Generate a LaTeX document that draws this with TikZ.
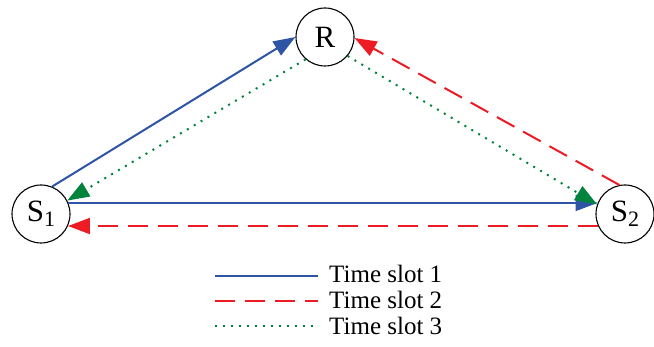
\documentclass[tikz,border=0pt]{standalone}
\usepackage{fontspec}
\setmainfont{Liberation Serif}
\usetikzlibrary{arrows.meta}
\definecolor{cblue}{HTML}{2E54A6}
\definecolor{cred}{HTML}{ED1C24}
\definecolor{cgreen}{HTML}{00843D}
\begin{document}
\begin{tikzpicture}[x=1pt,y=-1pt,
  station/.style={circle,draw=black,line width=1.1pt,minimum size=58pt,inner sep=0pt,font=\fontsize{31}{31}\selectfont},
  slotone/.style={cblue,line width=2pt},
  slottwo/.style={cred,line width=2pt,dash pattern=on 20pt off 10pt},
  slotthree/.style={cgreen,line width=2pt,dash pattern=on 2pt off 6pt},
  tip/.style={-{Triangle[length=22pt,width=16pt]}},
  legtext/.style={anchor=west,inner sep=0pt,font=\fontsize{25}{28}\selectfont}
]
\useasboundingbox (0,0) rectangle (654,347);
\node[station] (R) at (325,37) {R};
\node[station] (S1) at (41,214) {S\raisebox{-0.35ex}{\fontsize{22}{22}\selectfont 1}};
\node[station] (S2) at (625,214) {S\raisebox{-0.35ex}{\fontsize{22}{22}\selectfont 2}};
% time slot 1
\draw[slotone,tip] (S1.68) -- (R.180);
\draw[slotone,tip] (S1.22) -- (S2.158);
% time slot 2
\draw[slottwo,tip] (S2.101) -- (R.-2);
\draw[slottwo,tip] (S2.-156) -- (S1.-24);
% time slot 3
\draw[slotthree,tip] (R.229) -- (S1.27);
\draw[slotthree,tip] (R.-40) -- (S2.161);
% legend
\coordinate (l1a) at (215,276); \coordinate (l1b) at (318,276);
\coordinate (l2a) at (215,301); \coordinate (l2b) at (318,301);
\coordinate (l3a) at (215,326); \coordinate (l3b) at (318,326);
\draw[slotone] (l1a) -- (l1b);
\draw[slottwo] (l2a) -- (l2b);
\draw[slotthree] (l3a) -- (l3b);
\node[legtext] (t1) at (329,274) {Time slot 1};
\node[legtext] (t2) at (329,300) {Time slot 2};
\node[legtext] (t3) at (329,326) {Time slot 3};
\end{tikzpicture}
\end{document}
